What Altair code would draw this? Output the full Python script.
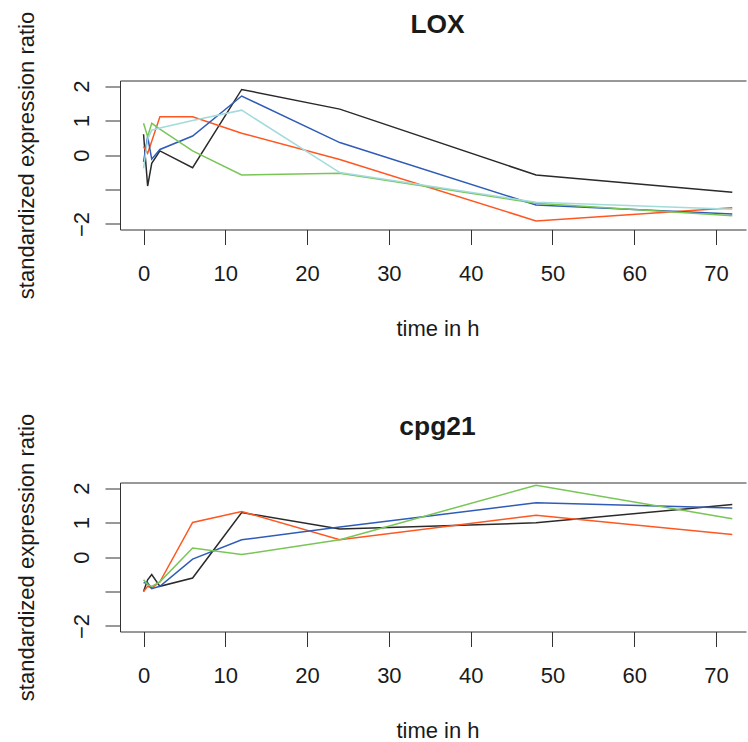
import altair as alt
import pandas as pd

times = [0, 0.5, 1, 2, 6, 12, 24, 48, 72]
series_names = ["s1", "s2", "s3", "s4", "s5"]
series_colors = ["#2a2a2a", "#ff5722", "#2f5cb8", "#78c655", "#a2dbdc"]

lox_s1 = [0.6, -0.9, -0.24, 0.12, -0.37, 1.9, 1.33, -0.58, -1.08]
lox_s2 = [0.24, 0.05, 0.4, 1.11, 1.11, 0.63, -0.13, -1.91, -1.53]
lox_s3 = [-0.2, 0.53, -0.12, 0.16, 0.55, 1.71, 0.36, -1.45, -1.71]
lox_s4 = [0.92, 0.53, 0.92, 0.75, 0.12, -0.58, -0.53, -1.40, -1.76]
lox_s5 = [-0.39, 0.45, 0.72, 0.78, 1.0, 1.3, -0.51, -1.37, -1.57]

cpg_s1 = [-1.0, -0.66, -0.51, -0.85, -0.61, 1.29, 0.81, 0.99, 1.52]
cpg_s2 = [-1.0, -0.85, -0.9, -0.72, 1.0, 1.32, 0.50, 1.21, 0.65]
cpg_s3 = [-0.75, -0.75, -0.92, -0.85, -0.06, 0.50, 0.87, 1.57, 1.42]
cpg_s4 = [-0.66, -0.8, -0.85, -0.72, 0.26, 0.07, 0.50, 2.08, 1.11]

x_ticks = [0, 10, 20, 30, 40, 50, 60, 70]
y_ticks = [-2, -1, 0, 1, 2]

rows = []
for gene, series in [("LOX", [lox_s1, lox_s2, lox_s3, lox_s4, lox_s5]),
                     ("cpg21", [cpg_s1, cpg_s2, cpg_s3, cpg_s4])]:
    for name, vals in zip(series_names, series):
        for t, v in zip(times, vals):
            rows.append({"gene": gene, "series": name, "time": t, "value": v})
df = pd.DataFrame(rows)

FONT = "Liberation Sans"
AX = "#333333"
TXT = "#1a1a1a"
W, H = 626, 149
GAP = 253
LEFT, TOP = 120, 80.5

xscale = alt.Scale(domain=[-2.88, -2.88 + W / 8.177], nice=False, zero=False)
yscale = alt.Scale(domain=[-2.16, 2.16], nice=False, zero=False)


def panel(gene):
    d = df[df.gene == gene]
    xaxis = alt.Axis(values=x_ticks, tickSize=15, tickColor=AX, domainColor=AX,
                     labelFontSize=22, labelFont=FONT, labelColor=TXT,
                     labelBaseline="alphabetic", labelPadding=35.5, labelFlush=False,
                     title="time in h", titleFontSize=22, titleFont=FONT,
                     titleFontWeight="normal", titleColor=TXT, titleX=317.5,
                     titleY=105.5, titleBaseline="alphabetic", titleAlign="center",
                     grid=False)
    yaxis = alt.Axis(values=y_ticks, tickSize=15, tickColor=AX, domainColor=AX,
                     labelFontSize=22, labelFont=FONT, labelColor=TXT,
                     labelAngle=270, labelAlign="center", labelBaseline="alphabetic",
                     labelPadding=17, labelFlush=False,
                     labelExpr="datum.value == -1 ? '' : datum.label",
                     title="standardized expression ratio", titleFontSize=22,
                     titleFont=FONT, titleFontWeight="normal", titleColor=TXT,
                     titleAngle=270, titleX=-87, titleY=H / 2,
                     titleBaseline="alphabetic", titleAlign="center", grid=False)
    lines = alt.Chart(d).mark_line(strokeWidth=1.5, clip=True).encode(
        x=alt.X("time:Q", scale=xscale, axis=xaxis),
        y=alt.Y("value:Q", scale=yscale, axis=yaxis),
        color=alt.Color("series:N", scale=alt.Scale(domain=series_names, range=series_colors),
                        legend=None),
    )
    top = alt.Chart(d).mark_line(opacity=0).encode(
        x=alt.X("time:Q", scale=xscale,
                axis=alt.Axis(orient="top", labels=False, ticks=False, title=None,
                              domain=True, domainColor=AX, grid=False)),
        y=alt.Y("value:Q", scale=yscale, axis=None),
        detail="series:N",
    )
    return alt.layer(lines, top).resolve_axis(x="independent", y="independent").properties(
        width=W, height=H,
        title=alt.TitleParams(text=gene, fontSize=26.4, fontWeight="bold", font=FONT,
                              color=TXT, anchor="middle", frame="group",
                              baseline="alphabetic", offset=-48.5, dx=4.5),
    )


chart = alt.vconcat(panel("LOX"), panel("cpg21"), spacing=GAP, bounds="flush").properties(
    autosize=alt.AutoSizeParams(type="none"),
    padding={"left": LEFT, "top": TOP, "right": 748 - LEFT - W,
             "bottom": 742 - TOP},
).configure_view(stroke=None)

chart.save("out.html", embed_options={"renderer": "svg", "actions": False})
